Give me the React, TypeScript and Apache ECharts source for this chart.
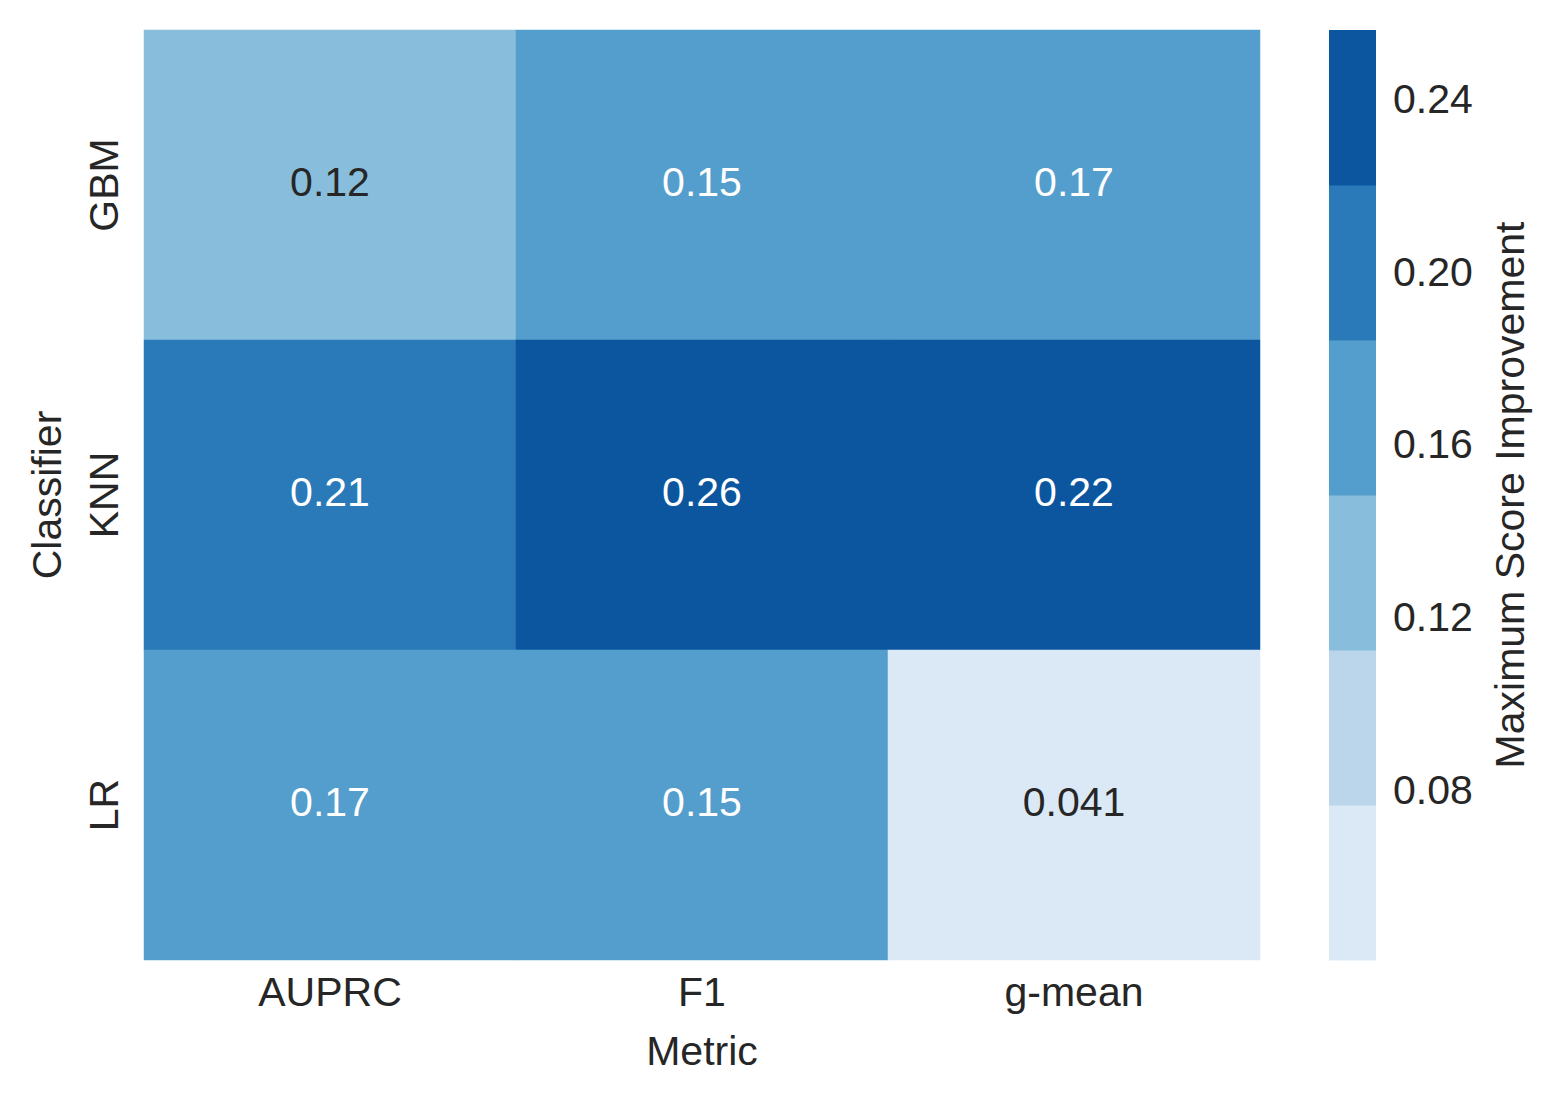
import React, { useEffect, useRef } from "react";
import * as echarts from "echarts";

const metrics = ["AUPRC", "F1", "g-mean"];
const classifiers = ["GBM", "KNN", "LR"];
const gbmScores = [0.12, 0.152, 0.17];
const knnScores = [0.21, 0.256, 0.222];
const lrScores = [0.17, 0.152, 0.0406];
const colorbarTicks = [0.08, 0.12, 0.16, 0.2, 0.24];
const palette = ["#dbe9f6", "#bbd6eb", "#88bedc", "#549ecd", "#2a7aba", "#0c56a0"];

const FONT = "'Liberation Sans', Arial, sans-serif";
const TEXT = "#262626";
const FS = 41;

function luminance(hex: string) {
  const c = [1, 3, 5].map((i) => parseInt(hex.slice(i, i + 2), 16) / 255);
  const l = c.map((v) => (v <= 0.03928 ? v / 12.92 : Math.pow((v + 0.055) / 1.055, 2.4)));
  return 0.2126 * l[0] + 0.7152 * l[1] + 0.0722 * l[2];
}

export default function App() {
  const ref = useRef<HTMLDivElement>(null);
  useEffect(() => {
    if (!ref.current) return;
    const chart = echarts.init(ref.current, undefined, { renderer: "svg" });
    const rows = [gbmScores, knnScores, lrScores];
    const all = rows.flat();
    const vmin = Math.min(...all);
    const vmax = Math.max(...all);
    const n = palette.length;
    const step = (vmax - vmin) / n;
    const edges = palette.map((_, i) => vmin + step * i).concat([vmax]);
    const binOf = (v: number) => Math.min(n - 1, Math.max(0, Math.floor((v - vmin) / step + 1e-9)));

    const heatData: any[] = [];
    rows.forEach((row, r) => {
      row.forEach((v, c) => {
        const col = palette[binOf(v)];
        heatData.push({
          value: [c, r, v],
          label: { color: luminance(col) > 0.408 ? TEXT : "#ffffff" },
        });
      });
    });

    const pieces = palette.map((color, i) => {
      const p: any = { color };
      if (i > 0) p.gte = edges[i];
      if (i < n - 1) p.lt = edges[i + 1];
      return p;
    });

    const barData = palette.map((_, i) => [edges[i], edges[i + 1], i]);

    chart.setOption({
      animation: false,
      backgroundColor: "#ffffff",
      textStyle: { fontFamily: FONT, color: TEXT },
      grid: [
        { left: 144, top: 30, width: 1116, height: 930 },
        { left: 1329, top: 30, width: 47, height: 930 },
      ],
      xAxis: [
        {
          type: "category",
          gridIndex: 0,
          data: metrics,
          name: "Metric",
          nameLocation: "middle",
          nameGap: 70,
          nameTextStyle: { fontSize: FS, color: TEXT, fontFamily: FONT, verticalAlign: "top" },
          axisLine: { show: false },
          axisTick: { show: false },
          splitLine: { show: false },
          axisLabel: { fontSize: FS, color: TEXT, fontFamily: FONT, margin: 11 },
        },
        { type: "value", gridIndex: 1, min: 0, max: 1, show: false },
      ],
      yAxis: [
        {
          type: "category",
          gridIndex: 0,
          data: classifiers,
          inverse: true,
          name: "Classifier",
          nameLocation: "middle",
          nameGap: 77,
          nameRotate: 90,
          nameTextStyle: { fontSize: FS, color: TEXT, fontFamily: FONT },
          axisLine: { show: false },
          axisTick: { show: false },
          splitLine: { show: false },
          axisLabel: { fontSize: FS, color: TEXT, fontFamily: FONT, rotate: 90, margin: 20 },
        },
        {
          type: "value",
          gridIndex: 1,
          position: "right",
          min: vmin,
          max: vmax,
          name: "Maximum Score Improvement",
          nameLocation: "middle",
          nameRotate: 90,
          nameGap: 113,
          nameTextStyle: { fontSize: FS, color: TEXT, fontFamily: FONT },
          axisLine: { show: false },
          axisTick: { show: false },
          splitLine: { show: false },
          axisLabel: {
            fontSize: FS,
            color: TEXT,
            fontFamily: FONT,
            margin: 17,
            customValues: colorbarTicks,
            formatter: (v: number) => v.toFixed(2),
          },
        },
      ],
      visualMap: {
        type: "piecewise",
        show: false,
        seriesIndex: 0,
        dimension: 2,
        pieces,
      },
      series: [
        {
          type: "heatmap",
          xAxisIndex: 0,
          yAxisIndex: 0,
          data: heatData,
          label: {
            show: true,
            fontSize: FS,
            fontFamily: FONT,
            offset: [0, -3],
            formatter: (p: any) => String(Number(p.value[2].toPrecision(2))),
          },
          itemStyle: { borderWidth: 0 },
          emphasis: { disabled: true },
        },
        {
          type: "custom",
          xAxisIndex: 1,
          yAxisIndex: 1,
          data: barData,
          encode: { x: 2, y: [0, 1] },
          renderItem: (params: any, api: any) => {
            const lo = api.value(0);
            const hi = api.value(1);
            const idx = api.value(2);
            const p1 = api.coord([0, hi]);
            const p2 = api.coord([1, lo]);
            return {
              type: "rect",
              shape: { x: p1[0], y: p1[1], width: p2[0] - p1[0], height: p2[1] - p1[1] + 0.5 },
              style: { fill: palette[idx] },
            };
          },
        },
      ],
    });
    return () => chart.dispose();
  }, []);
  return (
    <div
      ref={ref}
      style={{ position: "absolute", left: 0, top: 0, width: 1562, height: 1103 }}
    />
  );
}
